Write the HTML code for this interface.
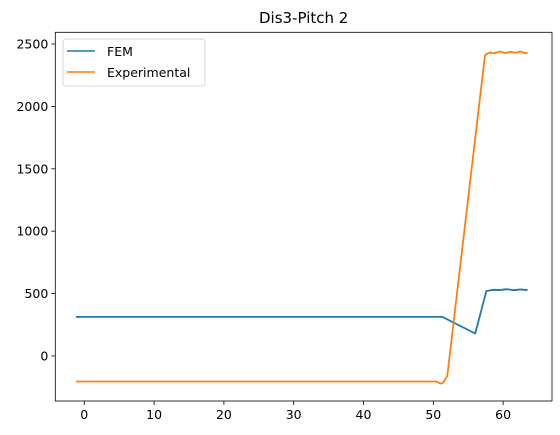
<!DOCTYPE html>
<html><head><meta charset="utf-8"><style>
body{margin:0;background:#fff;}
svg{display:block;font-family:"DejaVu Sans","Liberation Sans",sans-serif;}
</style></head><body>
<svg id="chart" width="560" height="435"></svg>
<script>
const xTicks=[0,10,20,30,40,50,60];
const yTicks=[0,500,1000,1500,2000,2500];
const femX=[-1.2,51.3,56,57.6,58.5,59.5,60.5,61.5,62.5,63.5];
const femY=[313,313,180,520,530,528,535,527,533,528];
const expX=[-1.2,50.5,51,51.4,52,57.4,58,58.7,59.5,60.3,61,61.8,62.5,63.2,63.5];
const expY=[-205,-205,-222,-215,-160,2410,2432,2425,2440,2428,2437,2430,2440,2425,2432];
const L=55.3,R=552,T=32.3,B=401;
const xMin=-4.15,xMax=67.0,yMin=-361,yMax=2594;
const sx=v=>L+(v-xMin)/(xMax-xMin)*(R-L);
const sy=v=>B-(v-yMin)/(yMax-yMin)*(B-T);
const svg=document.getElementById('chart');
const NS='http://www.w3.org/2000/svg';
function mk(tag,attrs,parent){const e=document.createElementNS(NS,tag);for(const k in attrs)e.setAttribute(k,attrs[k]);(parent||svg).appendChild(e);return e;}
let t=mk('text',{x:(L+R)/2,y:23,'text-anchor':'middle','font-size':'15',fill:'#000'});
t.textContent='Dis3-Pitch 2';


xTicks.forEach(v=>{
  const g=mk('g',{});
  
  
  mk('line',{x1:sx(v),x2:sx(v),y1:B,y2:B+4,stroke:'#000','stroke-width':0.8},g);
  const tx=mk('text',{x:sx(v),y:B+18,'text-anchor':'middle','font-size':'12.5',fill:'#000'},g);tx.textContent=v;
});
yTicks.forEach(v=>{
  const g=mk('g',{});
  
  
  mk('line',{x1:L-4,x2:L,y1:sy(v),y2:sy(v),stroke:'#000','stroke-width':0.8},g);
  const tx=mk('text',{x:L-7,y:sy(v)+4.5,'text-anchor':'end','font-size':'12.5',fill:'#000'},g);tx.textContent=v;
});
function series(xs,ys,color,name){
  const p=mk('polyline',{points:xs.map((x,i)=>sx(x)+','+sy(ys[i])).join(' '),fill:'none',stroke:color,'stroke-width':1.8,'stroke-linejoin':'round'});
  
  
}
series(femX,femY,'#1f77b4','fem-line');
series(expX,expY,'#ff7f0e','experimental-line');
const fr=mk('rect',{x:L,y:T,width:R-L,height:B-T,fill:'none',stroke:'#000','stroke-width':0.8});


const lg=mk('g',{});


mk('rect',{x:63,y:39,width:142,height:47,rx:3,fill:'#fff','fill-opacity':0.8,stroke:'#ccc','stroke-width':0.8},lg);
[['FEM','#1f77b4',56],['Experimental','#ff7f0e',77]].forEach(([n,c,y])=>{
  const e=mk('g',{},lg);
  
  
  mk('line',{x1:67,x2:95,y1:y-5,y2:y-5,stroke:c,'stroke-width':1.6},e);
  const tx=mk('text',{x:107,y:y,'font-size':'12.5',fill:'#000'},e);tx.textContent=n;
});
</script>
</body></html>
